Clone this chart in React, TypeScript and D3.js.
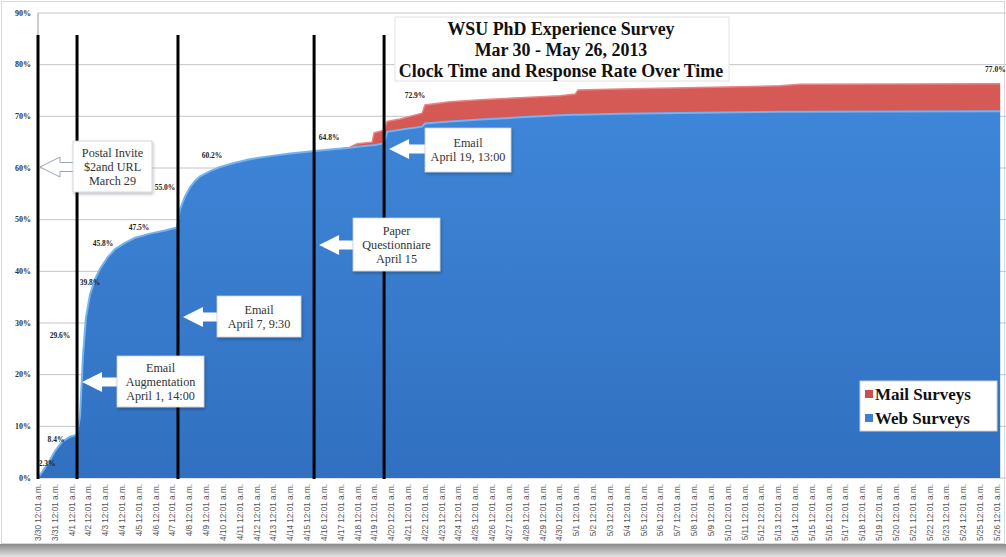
import React from 'react';
import * as d3 from 'd3';

// days since 3/30 12:01 a.m., cumulative response rate (%)
const days = [0, 0.42, 0.71, 1.01, 1.43, 1.9, 2.32, 2.5, 2.68, 2.85, 3.09, 3.39, 3.69, 4.16,
  4.58, 5.17, 5.77, 6.66, 7.55, 8.26, 8.44, 8.74, 9.04, 9.33, 9.63, 10.23, 10.82,
  11.71, 12.6, 13.79, 14.98, 16.17, 17.36, 18.55, 18.97, 19.86, 19.98, 20.57,
  20.75, 21.52, 22.83, 23.0, 24.5, 26.28, 28.66, 31.03, 31.93, 32.1, 34.6, 39.36, 44.1, 45.3, 57.19];
const webSurveys = [0, 2.0, 3.5, 5.2, 7.0, 8.0, 8.4, 12, 24, 31, 35.5, 38.5, 40.5, 42.8,
  44.3, 45.5, 46.5, 47.3, 47.9, 48.5, 52, 54.5, 56.3, 57.5, 58.4, 59.4, 60.2,
  61.0, 61.7, 62.3, 62.8, 63.2, 63.6, 63.9, 64.1, 64.4, 64.4, 64.8,
  67.0, 67.4, 68.0, 68.6, 69.0, 69.4, 69.8, 70.2, 70.3, 70.3, 70.5, 70.7, 70.9, 70.9, 71.0];
const mailSurveys = [0, 0, 0, 0, 0, 0, 0, 0, 0, 0, 0, 0, 0, 0,
  0, 0, 0, 0, 0, 0, 0, 0, 0, 0, 0, 0, 0,
  0, 0, 0, 0, 0, 0, 0.2, 0.6, 0.6, 2.4, 2.5,
  2.0, 2.1, 2.6, 3.6, 3.8, 3.8, 3.8, 3.8, 4.0, 4.8, 4.8, 4.9, 5.0, 5.3, 5.3];

const yTicks = [0, 10, 20, 30, 40, 50, 60, 70, 80, 90];
const tickDates = d3.timeDay.range(new Date(2013, 2, 30), new Date(2013, 4, 27));
const tickLabels = tickDates.map(d => `${d.getMonth() + 1}/${d.getDate()} 12:01 a.m.`);

// contact events (days since start)
const eventDays = [0, 2.32, 8.32, 16.41, 20.57];

// point labels: text, day, level (%)
const rateLabels = ['2.3%', '8.4%', '29.6%', '39.8%', '45.8%', '47.5%', '55.0%', '60.2%', '64.8%', '72.9%', '77.0%'];
const rateLabelDays = [0.54, 1.07, 1.31, 3.09, 3.86, 6.0, 7.55, 10.34, 17.3, 22.41, 56.9];
const rateLabelLevels = [2.9, 7.5, 27.7, 37.9, 45.5, 48.6, 56.3, 62.5, 66.0, 74.1, 79.0];

const titleLines = ['WSU PhD Experience Survey', 'Mar 30 - May 26, 2013', 'Clock Time and Response Rate Over Time'];
const seriesNames = ['Web Surveys', 'Mail Surveys'];

const callouts = [
  { lines: ['Postal Invite', '$2and URL', 'March 29'], event: 0, x: 73, y: 141, w: 79, h: 51, tipY: 167, outline: true },
  { lines: ['Email', 'Augmentation', 'April 1, 14:00'], event: 1, x: 117, y: 356, w: 87, h: 51, tipY: 382 },
  { lines: ['Email', 'April 7,  9:30'], event: 2, x: 217, y: 296, w: 84, h: 41, tipY: 317 },
  { lines: ['Paper', 'Questionniare', 'April 15'], event: 3, x: 353, y: 218, w: 87, h: 53, tipY: 245 },
  { lines: ['Email', 'April 19, 13:00'], event: 4, x: 425, y: 128, w: 86, h: 44, tipY: 149 },
];

const W = 1006, H = 557;
const serif = '"Liberation Serif", "DejaVu Serif", serif';

export default function App() {
  const x = d3.scaleLinear().domain([0, 57]).range([38, 997]);
  const y = d3.scaleLinear().domain([0, 90]).range([478, 13]);

  const table = days.map((d, i) => ({ day: d, web: webSurveys[i], mail: mailSurveys[i] }));
  const stacked = d3.stack<any>().keys(['web', 'mail'])(table);
  const area = d3.area<any>()
    .x(d => x(d.data.day))
    .y0(d => y(d[0]))
    .y1(d => y(d[1]));
  const topLine = d3.line<any>()
    .x(d => x(d.data.day))
    .y(d => y(d[1]));

  const arrow = (tipX: number, tipY: number, baseX: number) => {
    const head = Math.min(20, (baseX - tipX) * 0.7);
    const hx = tipX + head;
    return `M${tipX},${tipY} L${hx},${tipY - 10} L${hx},${tipY - 4.5} L${baseX},${tipY - 4.5} L${baseX},${tipY + 4.5} L${hx},${tipY + 4.5} L${hx},${tipY + 10} Z`;
  };

  return (
    <svg width={W} height={H} style={{ position: 'absolute', left: 0, top: 0, background: '#fff' }}>
      <defs>
        <linearGradient id="webFill" x1="0" y1="0" x2="0" y2="1">
          <stop offset="0%" stopColor="#3f86d8" />
          <stop offset="100%" stopColor="#3170c0" />
        </linearGradient>
        <linearGradient id="mailFill" x1="0" y1="0" x2="0" y2="1">
          <stop offset="0%" stopColor="#d65a56" />
          <stop offset="100%" stopColor="#c94a46" />
        </linearGradient>
        <linearGradient id="shadow" x1="0" y1="0" x2="0" y2="1">
          <stop offset="0%" stopColor="#8a8a8a" />
          <stop offset="100%" stopColor="#e4e4e4" />
        </linearGradient>
        <filter id="boxShadow" x="-10%" y="-10%" width="130%" height="140%">
          <feDropShadow dx="1" dy="2" stdDeviation="1.5" floodColor="#000" floodOpacity="0.25" />
        </filter>
      </defs>

      {/* frame */}
      <rect x={0} y={544} width={W} height={13} fill="url(#shadow)" />
      <rect x={1.5} y={1.5} width={W - 3} height={542} fill="#fff" stroke="#d8d8d8" />

      {/* gridlines */}
      {yTicks.map(t => (
        <line key={t} x1={38} x2={W} y1={y(t)} y2={y(t)} stroke="#c4c4c4" strokeWidth={1} />
      ))}
      <line x1={38} x2={38} y1={y(90)} y2={y(0)} stroke="#999" />

      {/* stacked areas */}
      <path d={area(stacked[0]) || ''} fill="url(#webFill)" />
      <path d={area(stacked[1]) || ''} fill="url(#mailFill)" />
      <path d={topLine(stacked[0]) || ''} fill="none" stroke="#74b3f2" strokeWidth={2} />
      <path d={topLine(stacked[1].filter(d => d.data.day >= 18.5)) || ''} fill="none" stroke="#e88582" strokeWidth={1.5} />

      {/* y axis labels */}
      {yTicks.map(t => (
        <text key={t} x={31} y={y(t)} dy="0.35em" textAnchor="end" fontFamily={serif}
          fontWeight="bold" fontSize={8} fill="#333">{t}%</text>
      ))}

      {/* x axis labels */}
      {tickLabels.map((lab, i) => (
        <text key={lab} transform={`translate(${x(i)},484) rotate(-90)`} dy="0.35em" textAnchor="end"
          fontFamily='"Liberation Sans", Arial, sans-serif' fontSize={8.2} fill="#555">{lab}</text>
      ))}

      {/* event lines */}
      {eventDays.map((d, i) => (
        <line key={i} x1={x(d)} x2={x(d)} y1={35} y2={y(0) + 1} stroke="#000" strokeWidth={3} />
      ))}

      {/* point labels */}
      {rateLabels.map((lab, i) => (
        <text key={lab} x={x(rateLabelDays[i])} y={y(rateLabelLevels[i])} dy="0.35em" textAnchor="middle"
          fontFamily={serif} fontWeight="bold" fontSize={7.5} fill="#222">{lab}</text>
      ))}

      {/* callouts */}
      {callouts.map((c, i) => {
        const tipX = x(eventDays[c.event]) + (c.outline ? 2 : 5);
        const lh = 14;
        const start = c.y + c.h / 2 - ((c.lines.length - 1) * lh) / 2;
        return (
          <g key={i}>
            <path d={arrow(tipX, c.tipY, c.x + 1)} fill="#fff" stroke={c.outline ? '#9aa6b2' : 'none'} strokeWidth={1} />
            <rect x={c.x} y={c.y} width={c.w} height={c.h} fill="#fff" stroke="#c8d0d8" strokeWidth={0.8}
              filter="url(#boxShadow)" />
            {c.lines.map((ln, j) => (
              <text key={j} x={c.x + c.w / 2} y={start + j * lh} dy="0.35em" textAnchor="middle"
                fontFamily={serif} fontSize={12.2} fill="#333">{ln}</text>
            ))}
          </g>
        );
      })}

      {/* title */}
      <rect x={395} y={17} width={334} height={64} fill="#fff" stroke="#e2e2e2" />
      {titleLines.map((t, i) => (
        <text key={t} x={561} y={29 + i * 21} dy="0.35em" textAnchor="middle" fontFamily={serif}
          fontWeight="bold" fontSize={17.9} fill="#111">{t}</text>
      ))}

      {/* legend */}
      <rect x={860} y={381} width={137} height={50} fill="#fff" stroke="#d0d0d0" />
      {[1, 0].map((k, i) => (
        <g key={k} transform={`translate(865,${394 + i * 24})`}>
          <rect x={0} y={-4} width={8} height={8} fill={k === 1 ? '#c9514d' : '#3c7fcf'} />
          <text x={10} y={0} dy="0.35em" fontFamily={serif} fontWeight="bold" fontSize={17} fill="#111">{seriesNames[k]}</text>
        </g>
      ))}
    </svg>
  );
}
